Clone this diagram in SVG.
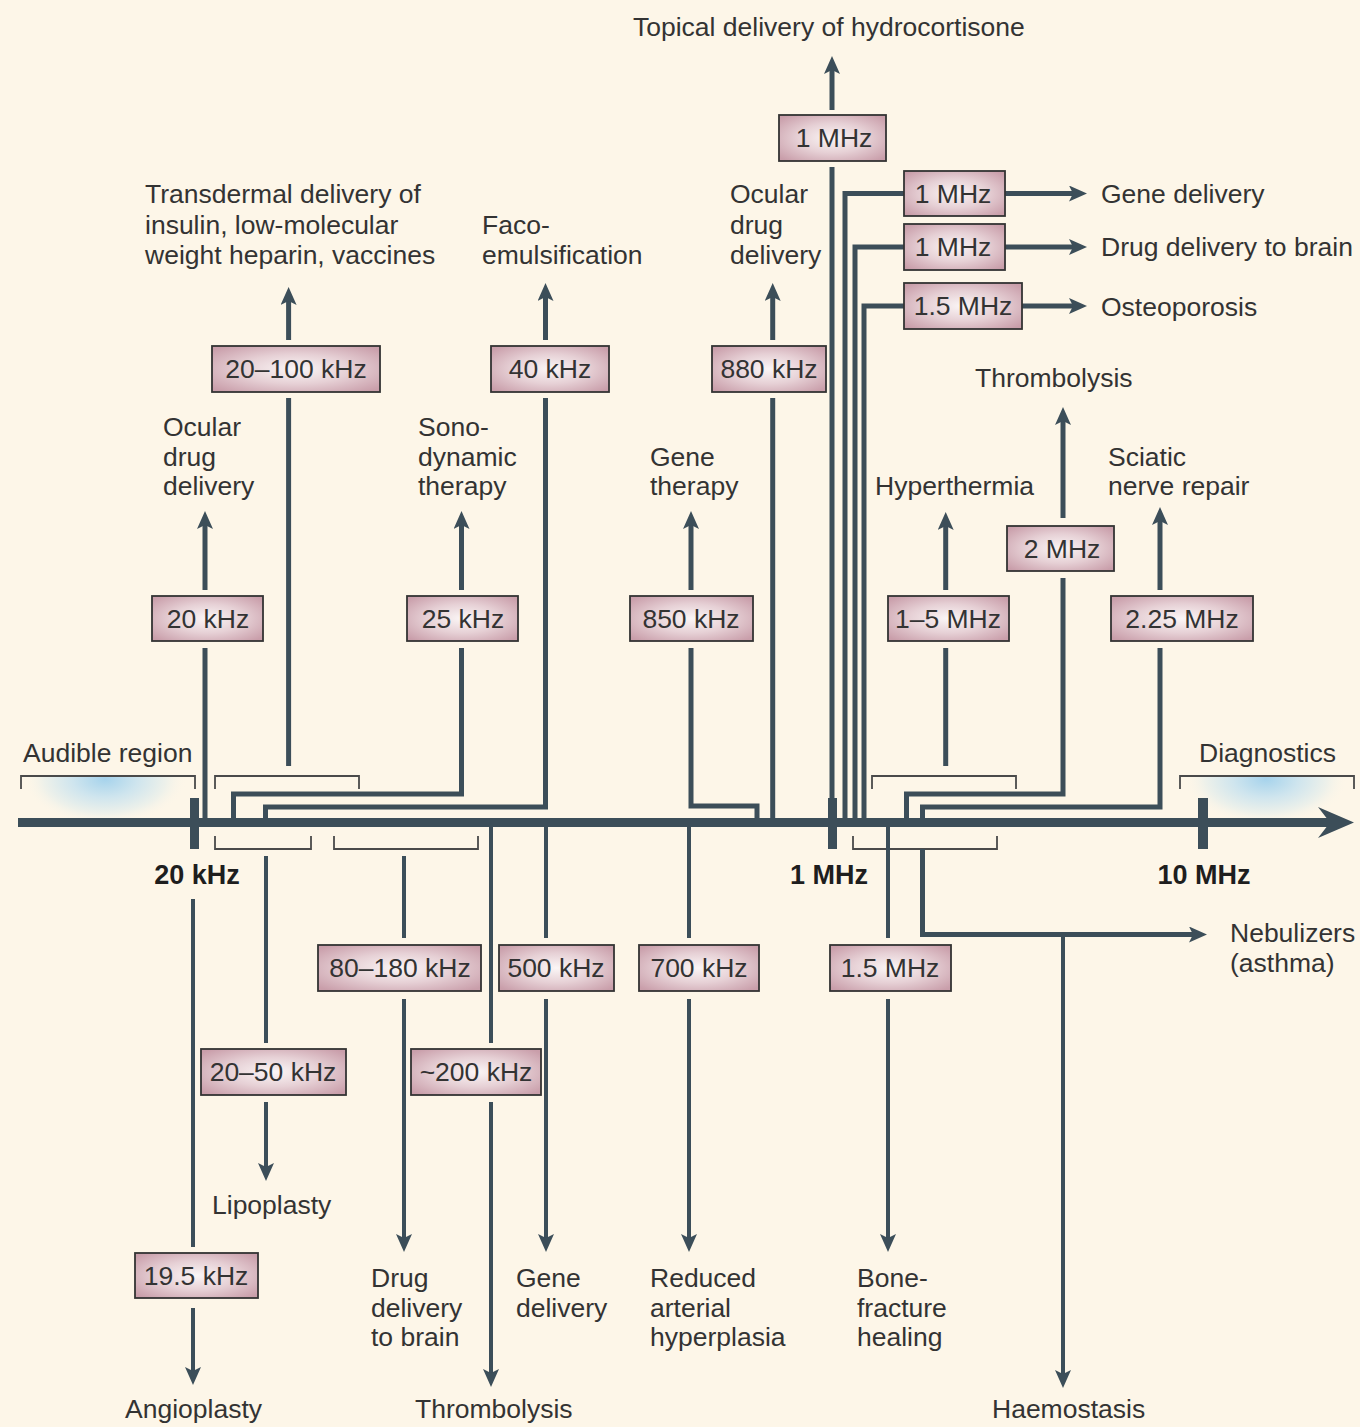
<svg xmlns="http://www.w3.org/2000/svg" width="1360" height="1427" viewBox="0 0 1360 1427">
<defs>
<style>
.ln{fill:none;stroke:#3c4e59;stroke-width:5;stroke-linejoin:miter;stroke-linecap:butt}
.lnd{fill:none;stroke:#3c4e59;stroke-width:4;stroke-linejoin:miter;stroke-linecap:butt}
.arr{marker-end:url(#ah)}
.br{fill:none;stroke:#4a4a4a;stroke-width:1.8}
.box{fill:url(#boxg);stroke:#333;stroke-width:1.8}
.bt{font-family:"Liberation Sans",Arial,sans-serif;font-size:26.5px;fill:#333;text-anchor:middle}
.lb{font-family:"Liberation Sans",Arial,sans-serif;font-size:26.5px;fill:#333}
.tk{font-family:"Liberation Sans",Arial,sans-serif;font-size:27px;font-weight:bold;fill:#1e1e1e;text-anchor:middle}
.tick{fill:#3c4e59}
</style>
<radialGradient id="boxg" cx="50%" cy="50%" r="65%">
<stop offset="0" stop-color="#fbf6f6"/>
<stop offset="0.5" stop-color="#e6d0d5"/>
<stop offset="1" stop-color="#c99eaa"/>
</radialGradient>
<radialGradient id="blueL" gradientUnits="userSpaceOnUse" cx="0" cy="0" r="1" gradientTransform="translate(105 779) scale(82 46)">
<stop offset="0" stop-color="#a6d3ec"/>
<stop offset="0.4" stop-color="#cfe5ee"/>
<stop offset="0.75" stop-color="#eef1ea"/>
<stop offset="1" stop-color="#fdf6e8" stop-opacity="0"/>
</radialGradient>
<radialGradient id="blueR" gradientUnits="userSpaceOnUse" cx="0" cy="0" r="1" gradientTransform="translate(1266 779) scale(82 46)">
<stop offset="0" stop-color="#a6d3ec"/>
<stop offset="0.4" stop-color="#cfe5ee"/>
<stop offset="0.75" stop-color="#eef1ea"/>
<stop offset="1" stop-color="#fdf6e8" stop-opacity="0"/>
</radialGradient>
<marker id="ah" markerUnits="userSpaceOnUse" markerWidth="20" markerHeight="16" viewBox="0 0 18 16" refX="6" refY="8" orient="auto">
<path d="M0,0 L18,8 L0,16 L4,8 z" fill="#3c4e59"/>
</marker>
</defs>
<rect x="0" y="0" width="1360" height="1427" fill="#fdf6e8"/>

<g id="regions">
<rect x="22" y="777" width="172" height="41" fill="url(#blueL)"/>
<rect x="1181" y="777" width="172" height="41" fill="url(#blueR)"/>
<path class="br" d="M21,789 V776 H195 V789"/>
<path class="br" d="M215,789 V776 H359 V789"/>
<path class="br" d="M872,789 V776 H1016 V789"/>
<path class="br" d="M1180,789 V776 H1354 V789"/>
<path class="br" d="M215,836 V849 H311 V836"/>
<path class="br" d="M334,836 V849 H478 V836"/>
<path class="br" d="M853,836 V849 H997 V836"/>
</g>

<g id="connectors">
<path class="ln" d="M205,822 V648"/>
<path class="ln arr" d="M205,590 V523"/>
<path class="ln" d="M288.6,766 V398"/>
<path class="ln arr" d="M288.6,340 V299"/>
<path class="ln" d="M233.5,822 V794 H461.5 V648"/>
<path class="ln arr" d="M461.5,590 V523"/>
<path class="ln" d="M265.5,822 V807 H545.5 V398"/>
<path class="ln arr" d="M545.5,340 V295"/>
<path class="ln" d="M757,822 V806 H691 V648"/>
<path class="ln arr" d="M691,590 V523"/>
<path class="ln" d="M772.7,822 V398"/>
<path class="ln arr" d="M772.7,340 V295"/>
<path class="ln" d="M832,822 V167"/>
<path class="ln arr" d="M832,110 V68"/>
<path class="ln" d="M845,822 V193.5 H904"/>
<path class="ln arr" d="M1005,193.5 H1075"/>
<path class="ln" d="M855,822 V247 H904"/>
<path class="ln arr" d="M1005,247 H1075"/>
<path class="ln" d="M864,822 V306 H904"/>
<path class="ln arr" d="M1022,306 H1075"/>
<path class="ln" d="M945.7,766 V648"/>
<path class="ln arr" d="M945.7,590 V524"/>
<path class="ln" d="M906.5,822 V794 H1063 V578"/>
<path class="ln arr" d="M1063,518 V419"/>
<path class="ln" d="M922.5,822 V807 H1160 V648"/>
<path class="ln arr" d="M1160,590 V519"/>

<path class="lnd" d="M266,856 V1043"/>
<path class="lnd arr" d="M266,1102 V1169"/>
<path class="lnd" d="M193,899 V1247"/>
<path class="lnd arr" d="M193,1308 V1373"/>
<path class="lnd" d="M404,856 V938"/>
<path class="lnd arr" d="M404,999 V1240"/>
<path class="lnd" d="M491,822 V1043"/>
<path class="lnd arr" d="M491,1102 V1375"/>
<path class="lnd" d="M546,822 V938"/>
<path class="lnd arr" d="M546,999 V1240"/>
<path class="lnd" d="M689,822 V938"/>
<path class="lnd arr" d="M689,999 V1240"/>
<path class="lnd" d="M888,822 V938"/>
<path class="lnd arr" d="M888,999 V1240"/>
<path class="ln arr" d="M922.5,849 V934.5 H1195"/>
<path class="lnd arr" d="M1063,934.5 V1376"/>
</g>

<g id="axis">
<rect x="18" y="818" width="1312" height="9" fill="#3c4e59"/>
<polygon points="1354,822.5 1318,807 1330,822.5 1318,838" fill="#3c4e59"/>
<rect class="tick" x="190" y="798" width="9" height="51"/>
<rect class="tick" x="828" y="798" width="9" height="51"/>
<rect class="tick" x="1198" y="798" width="10" height="51"/>
<text class="tk" x="197" y="884">20 kHz</text>
<text class="tk" x="829" y="884">1 MHz</text>
<text class="tk" x="1204" y="884">10 MHz</text>
</g>

<g id="n-20-100"><rect class="box" x="212" y="346" width="168" height="46"/><text class="bt" x="296" y="378">20–100 kHz</text></g>
<g id="n-40"><rect class="box" x="491" y="346" width="118" height="46"/><text class="bt" x="550" y="378">40 kHz</text></g>
<g id="n-880"><rect class="box" x="712" y="346" width="114" height="46"/><text class="bt" x="769" y="378">880 kHz</text></g>
<g id="n-1mhz-top"><rect class="box" x="779" y="115" width="107" height="46"/><text class="bt" x="834" y="147">1 MHz</text></g>
<g id="n-1mhz-gene"><rect class="box" x="904" y="171" width="101" height="45"/><text class="bt" x="953" y="203">1 MHz</text></g>
<g id="n-1mhz-brain"><rect class="box" x="904" y="224" width="101" height="46"/><text class="bt" x="953" y="256">1 MHz</text></g>
<g id="n-1.5mhz-osteo"><rect class="box" x="904" y="283" width="118" height="46"/><text class="bt" x="963" y="315">1.5 MHz</text></g>
<g id="n-20"><rect class="box" x="152" y="596" width="111" height="45"/><text class="bt" x="208" y="628">20 kHz</text></g>
<g id="n-25"><rect class="box" x="407" y="596" width="111" height="45"/><text class="bt" x="463" y="628">25 kHz</text></g>
<g id="n-850"><rect class="box" x="630" y="596" width="123" height="45"/><text class="bt" x="691" y="628">850 kHz</text></g>
<g id="n-1-5"><rect class="box" x="888" y="596" width="121" height="45"/><text class="bt" x="948" y="628">1–5 MHz</text></g>
<g id="n-2mhz"><rect class="box" x="1007" y="526" width="107" height="45"/><text class="bt" x="1062" y="558">2 MHz</text></g>
<g id="n-2.25"><rect class="box" x="1111" y="596" width="142" height="45"/><text class="bt" x="1182" y="628">2.25 MHz</text></g>

<g id="n-80-180"><rect class="box" x="318" y="945" width="163" height="46"/><text class="bt" x="400" y="977">80–180 kHz</text></g>
<g id="n-500"><rect class="box" x="499" y="945" width="115" height="46"/><text class="bt" x="556" y="977">500 kHz</text></g>
<g id="n-700"><rect class="box" x="639" y="945" width="120" height="46"/><text class="bt" x="699" y="977">700 kHz</text></g>
<g id="n-1.5mhz-bone"><rect class="box" x="830" y="945" width="121" height="46"/><text class="bt" x="890" y="977">1.5 MHz</text></g>
<g id="n-20-50"><rect class="box" x="201" y="1049" width="145" height="46"/><text class="bt" x="273" y="1081">20–50 kHz</text></g>
<g id="n-200"><rect class="box" x="411" y="1049" width="130" height="46"/><text class="bt" x="476" y="1081">~200 kHz</text></g>
<g id="n-19.5"><rect class="box" x="135" y="1253" width="123" height="45"/><text class="bt" x="196" y="1285">19.5 kHz</text></g>

<g id="l-topical"><text class="lb" x="633" y="36">Topical delivery of hydrocortisone</text></g>
<g id="l-transdermal"><text class="lb" x="145" y="203">Transdermal delivery of</text><text class="lb" x="145" y="234">insulin, low-molecular</text><text class="lb" x="145" y="264">weight heparin, vaccines</text></g>
<g id="l-faco"><text class="lb" x="482" y="234">Faco-</text><text class="lb" x="482" y="264">emulsification</text></g>
<g id="l-ocular-r"><text class="lb" x="730" y="203">Ocular</text><text class="lb" x="730" y="234">drug</text><text class="lb" x="730" y="264">delivery</text></g>
<g id="l-gene-delivery-r"><text class="lb" x="1101" y="203">Gene delivery</text></g>
<g id="l-drug-brain-r"><text class="lb" x="1101" y="256">Drug delivery to brain</text></g>
<g id="l-osteo"><text class="lb" x="1101" y="316">Osteoporosis</text></g>
<g id="l-thrombo-top"><text class="lb" x="975" y="387">Thrombolysis</text></g>
<g id="l-ocular-l"><text class="lb" x="163" y="436">Ocular</text><text class="lb" x="163" y="466">drug</text><text class="lb" x="163" y="495">delivery</text></g>
<g id="l-sono"><text class="lb" x="418" y="436">Sono-</text><text class="lb" x="418" y="466">dynamic</text><text class="lb" x="418" y="495">therapy</text></g>
<g id="l-gene-therapy"><text class="lb" x="650" y="466">Gene</text><text class="lb" x="650" y="495">therapy</text></g>
<g id="l-hyper"><text class="lb" x="875" y="495">Hyperthermia</text></g>
<g id="l-sciatic"><text class="lb" x="1108" y="466">Sciatic</text><text class="lb" x="1108" y="495">nerve repair</text></g>
<g id="l-audible"><text class="lb" x="23" y="762">Audible region</text></g>
<g id="l-diag"><text class="lb" x="1199" y="762">Diagnostics</text></g>
<g id="l-nebul"><text class="lb" x="1230" y="942">Nebulizers</text><text class="lb" x="1230" y="972">(asthma)</text></g>
<g id="l-lipo"><text class="lb" x="212" y="1214">Lipoplasty</text></g>
<g id="l-drug-brain-b"><text class="lb" x="371" y="1287">Drug</text><text class="lb" x="371" y="1317">delivery</text><text class="lb" x="371" y="1346">to brain</text></g>
<g id="l-gene-delivery-b"><text class="lb" x="516" y="1287">Gene</text><text class="lb" x="516" y="1317">delivery</text></g>
<g id="l-reduced"><text class="lb" x="650" y="1287">Reduced</text><text class="lb" x="650" y="1317">arterial</text><text class="lb" x="650" y="1346">hyperplasia</text></g>
<g id="l-bone"><text class="lb" x="857" y="1287">Bone-</text><text class="lb" x="857" y="1317">fracture</text><text class="lb" x="857" y="1346">healing</text></g>
<g id="l-angio"><text class="lb" x="125" y="1418">Angioplasty</text></g>
<g id="l-thrombo-b"><text class="lb" x="415" y="1418">Thrombolysis</text></g>
<g id="l-haemo"><text class="lb" x="992" y="1418">Haemostasis</text></g>
</svg>
